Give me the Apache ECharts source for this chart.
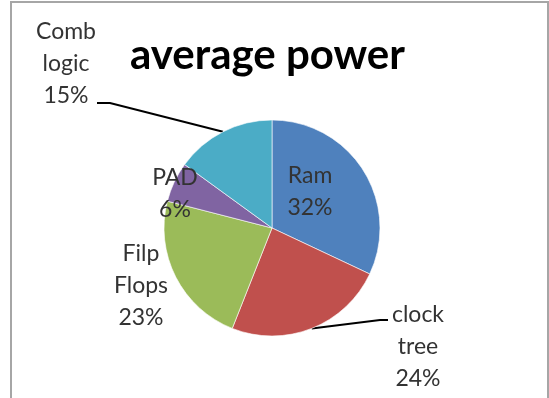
<!DOCTYPE html>
<html>
<head>
<meta charset="utf-8">
<script src="https://cdn.jsdelivr.net/npm/echarts@6/dist/echarts.min.js"></script>
<style>
	html, body { margin: 0; padding: 0; overflow: hidden; background: #fff; }
	#chart { width: 549px; height: 398px; }
	.frame {
		position: absolute; left: 10px; top: 1px; width: 535px; height: 420px;
		border: 2px solid #a6a6a6; pointer-events: none;
	}
</style>
</head>
<body>
<div id="chart"></div>
<div class="frame"></div>
<script>
	var names = ['Ram', 'clock\ntree', 'Filp\nFlops', 'PAD', 'Comb\nlogic'];
	var values = [32, 24, 23, 6, 15];
	var colors = ['#4f81bd', '#c0504d', '#9bbb59', '#8064a2', '#4bacc6'];

	// label centres
	var labelPos = [[310, 192], [418, 347], [141, 286], [175, 194], [66, 64]];

	var mychart = echarts.init(document.getElementById('chart'));

	var pieData = [];
	for (var i = 0; i < names.length; i++) {
		pieData.push({
			name: names[i],
			value: values[i],
			itemStyle: { color: colors[i] },
			labelLine: { show: i == 1 || i == 4 }
		});
	}

	var option = {
		animation: false,
		title: {
			text: 'average power',
			left: 125,
			top: 29,
			textStyle: {
				fontFamily: 'Lato',
				fontWeight: 'bold',
				fontSize: 42,
				color: '#000'
			}
		},
		series: [{
			type: 'pie',
			center: [272, 228],
			radius: 108,
			startAngle: 90,
			clockwise: true,
			itemStyle: { borderColor: 'rgba(255,255,255,0.6)', borderWidth: 1 },
			label: {
				show: true,
				position: 'outside',
				formatter: '{b}\n{d}%',
				fontFamily: 'Lato',
				fontSize: 23,
				lineHeight: 32,
				color: '#333',
				align: 'center'
			},
			labelLine: {
				lineStyle: { color: '#000', width: 2 }
			},
			emphasis: { disabled: true },
			data: pieData,
			labelLayout: function (params) {
				var p = labelPos[params.dataIndex];
				var res = {
					x: p[0],
					y: p[1],
					align: 'center',
					verticalAlign: 'middle',
					hideOverlap: false,
					moveOverlap: false
				};
				var start = params.labelLinePoints ? params.labelLinePoints[0] : null;
				if (params.dataIndex == 4 && start) {
					res.labelLinePoints = [start, [110, 103], [97, 103]];
				}
				if (params.dataIndex == 1 && start) {
					res.labelLinePoints = [start, [380, 320], [388, 320]];
				}
				return res;
			}
		}]
	};

	mychart.setOption(option);
</script>
</body>
</html>
